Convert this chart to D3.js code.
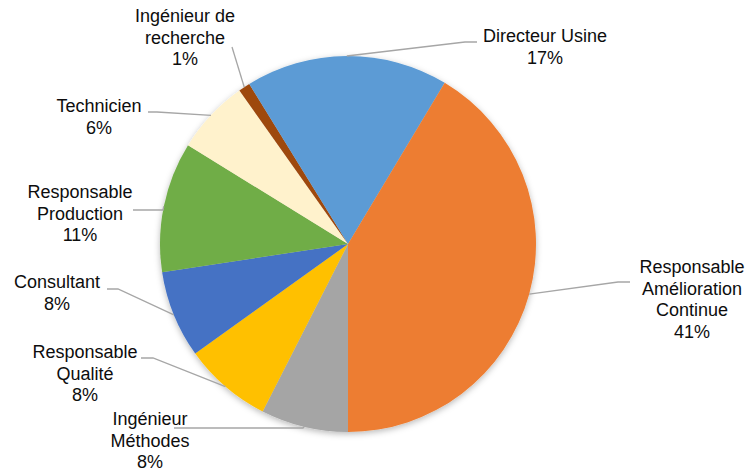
<!DOCTYPE html>
<html>
<head>
<meta charset="utf-8">
<script src="https://cdn.jsdelivr.net/npm/d3@7"></script>
<style>
  body { margin: 0; background: #fff; }
  svg text { font-family: "Liberation Sans", Arial, sans-serif; }
</style>
</head>
<body>
<script>
// data, in the order Excel draws it (first slice starts at 6 o'clock)
var categories = ["Ingénieur Méthodes", "Responsable Qualité", "Consultant",
                  "Responsable Production", "Technicien", "Ingénieur de recherche",
                  "Directeur Usine", "Responsable Amélioration Continue"];
var values = [7.5, 7.6, 7.5, 11.2, 6.4, 1.0, 17.4, 41.4];
var labelLines = [["Ingénieur", "Méthodes"], ["Responsable", "Qualité"], ["Consultant"],
                  ["Responsable", "Production"], ["Technicien"], ["Ingénieur de", "recherche"],
                  ["Directeur Usine"], ["Responsable", "Amélioration", "Continue"]];
var colors = ["#A5A5A5", "#FFC000", "#4472C4", "#70AD47", "#FFF2CC", "#9E480E", "#5B9BD5", "#ED7D31"];

// label layout: text centre x, first baseline y, leader elbow and end
var labelPos = [
  {x: 150, y: 425, elbow: [303, 428], end: [174, 428]},
  {x: 85,  y: 358, elbow: [153, 358], end: [141, 358]},
  {x: 57,  y: 288, elbow: [118, 289], end: [107, 289]},
  {x: 80,  y: 198, elbow: [163, 210], end: [133, 210]},
  {x: 99,  y: 112, elbow: [157, 112], end: [148, 112]},
  {x: 185, y: 22,  elbow: [232, 47],  end: [232, 47]},
  {x: 545, y: 42,  elbow: [465, 42],  end: [477, 42]},
  {x: 692, y: 273, elbow: [618, 282], end: [630, 282]}
];

var width = 747, height = 472;
var cx = 348, cy = 244, radius = 188;
var lineH = 21.5;

var svg = d3.select("body").append("svg")
    .attr("width", width)
    .attr("height", height);

var defs = svg.append("defs");
var filter = defs.append("filter").attr("id", "shadow")
    .attr("x", "-10%").attr("y", "-10%").attr("width", "120%").attr("height", "120%");
filter.append("feDropShadow")
    .attr("dx", 0).attr("dy", 2)
    .attr("stdDeviation", 3)
    .attr("flood-color", "#000")
    .attr("flood-opacity", 0.28);

var total = d3.sum(values);
var data = categories.map(function(c, i) { return {name: c, value: values[i], i: i}; });

var pie = d3.pie()
    .sort(null)
    .value(function(d) { return d.value; })
    .startAngle(Math.PI)
    .endAngle(3 * Math.PI);

var arc = d3.arc().innerRadius(0).outerRadius(radius);
var arcs = pie(data);

var g = svg.append("g")
    .attr("transform", "translate(" + cx + "," + cy + ")");

g.append("g")
    .attr("filter", "url(#shadow)")
  .selectAll("path")
    .data(arcs)
  .enter().append("path")
    .attr("d", arc)
    .attr("fill", function(d) { return colors[d.data.i]; });

// leader lines from the slice edge at its mid angle
svg.append("g").selectAll("polyline")
    .data(arcs)
  .enter().append("polyline")
    .attr("fill", "none")
    .attr("stroke", "#A6A6A6")
    .attr("stroke-width", 1.3)
    .attr("points", function(d) {
      var a = (d.startAngle + d.endAngle) / 2;
      var p = labelPos[d.data.i];
      var sx = cx + radius * Math.sin(a), sy = cy - radius * Math.cos(a);
      return [[sx, sy], p.elbow, p.end].map(function(q) { return q.join(","); }).join(" ");
    });

var labels = svg.append("g").selectAll("text")
    .data(arcs)
  .enter().append("text")
    .attr("text-anchor", "middle")
    .attr("font-size", 18)
    .attr("fill", "#0d0d0d");

labels.each(function(d) {
  var t = d3.select(this), p = labelPos[d.data.i];
  var lines = labelLines[d.data.i].concat([Math.round(d.data.value / total * 100 + 1e-9) + "%"]);
  lines.forEach(function(s, k) {
    t.append("tspan").attr("x", p.x).attr("y", p.y + k * lineH).text(s);
  });
});
</script>
</body>
</html>
